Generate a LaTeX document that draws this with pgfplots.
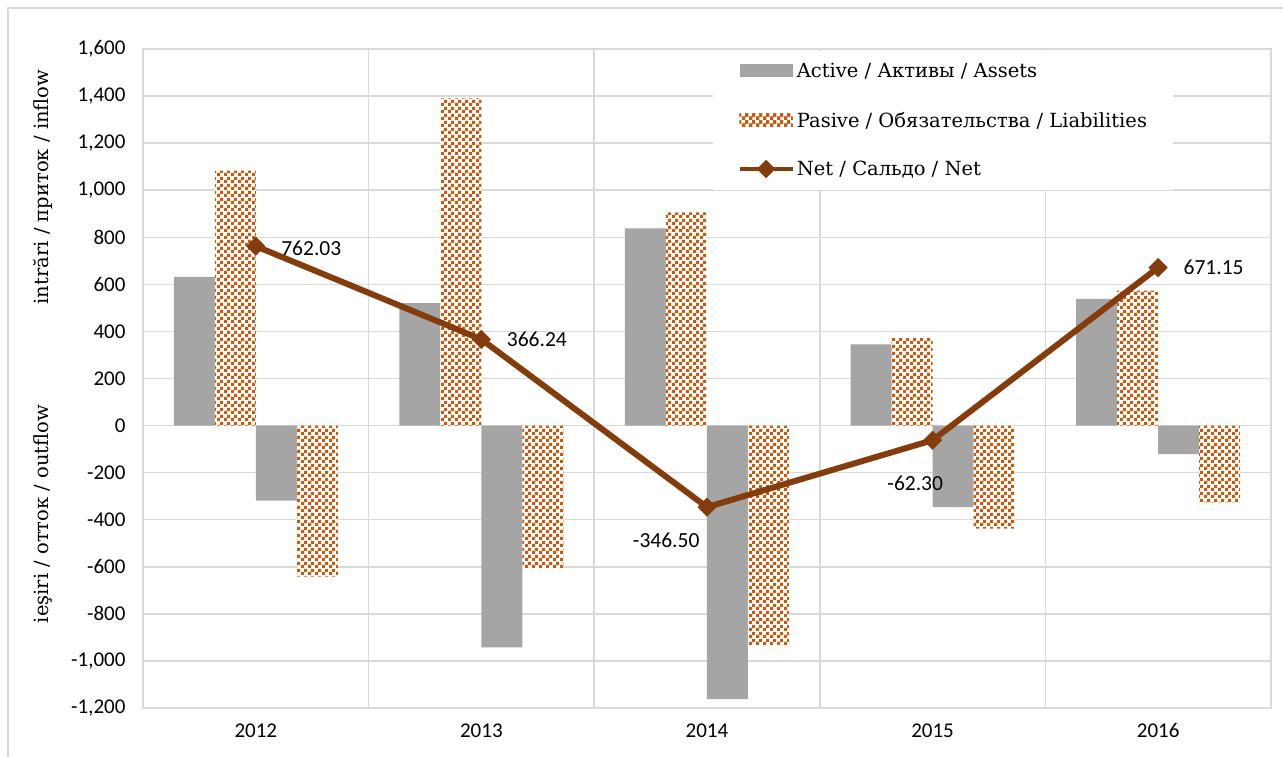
\documentclass[border=0pt]{standalone}
\usepackage{fontspec}
\setmainfont{DejaVu Serif}
\newfontfamily\carlito{Carlito}
\usepackage{pgfplots}
\pgfplotsset{compat=1.18}
\usetikzlibrary{patterns.meta}
\definecolor{xgray}{HTML}{A5A5A5}
\definecolor{xorange}{HTML}{C55A11}
\definecolor{xnet}{HTML}{843C0C}
\definecolor{xgrid}{HTML}{D9D9D9}
\pgfdeclarepattern{
  name=xlcheck, type=uncolored,
  bottom left={\pgfpoint{0pt}{0pt}}, top right={\pgfpoint{7pt}{7pt}},
  tile size={\pgfpoint{7pt}{7pt}},
  code={\pgfpathrectangle{\pgfpoint{0pt}{0pt}}{\pgfpoint{3.5pt}{3.5pt}}
        \pgfpathrectangle{\pgfpoint{3.5pt}{3.5pt}}{\pgfpoint{3.5pt}{3.5pt}}
        \pgfusepath{fill}}}
\pgfplotstableread{
x act pas actn pasn net
0 632 1083 -319 -642 762.03
1 520 1390 -942 -606 366.24
2 838 906 -1162 -934 -346.50
3 345 373 -347 -438 -62.30
4 538 573 -121 -326 671.15
}\datatab
\begin{document}
\begin{tikzpicture}
\path[use as bounding box] (0pt,0pt) rectangle (1283pt,-757pt);
\draw[xgrid, line width=1.5pt] (8pt,-8pt) rectangle (1320pt,-800pt);
\begin{axis}[
  at={(143pt,-708pt)}, anchor=south west,
  scale only axis, width=1128pt, height=659pt,
  xmin=-0.5, xmax=4.5, ymin=-1200, ymax=1600,
  ytick distance=200,
  xtick={0,1,2,3,4}, xticklabels={2012,2013,2014,2015,2016},
  minor xtick={0.5,1.5,2.5,3.5},
  xminorgrids, ymajorgrids,
  grid style={xgrid, line width=1.5pt},
  minor grid style={xgrid, line width=1.5pt},
  axis line style={xgrid, line width=1.5pt},
  major tick length=0pt, minor tick length=0pt,
  tick style={draw=none},
  ticklabel style={font=\carlito\fontsize{21}{21}\selectfont},
  /pgf/number format/assume math mode=true,
  /pgf/number format/.cd, 1000 sep={,}, /pgfplots/.cd,
  yticklabel style={xshift=-14pt},
  xticklabel style={yshift=-12pt},
  legend style={at={(0.5055,0.998)}, anchor=north west, draw=none, fill=white,
    font=\fontsize{19.5}{23}\selectfont, row sep=28.5pt,
    inner xsep=24pt, inner ysep=11pt,
    nodes={inner xsep=2pt}},
  legend cell align=left,
]
\addplot[ybar, bar width=41pt, bar shift=-61.5pt, fill=xgray, draw=none,
  legend image code/.code={\fill[xgray] (0pt,-6pt) rectangle (53pt,7pt);}]
  table[x=x,y=act]{\datatab};
\addlegendentry{Active / Активы / Assets}
\addplot[ybar, bar width=41pt, bar shift=-20.5pt, fill=white, draw=none,
  postaction={pattern=xlcheck, pattern color=xorange},
  legend image code/.code={\fill[white] (0pt,-6pt) rectangle (53pt,7pt);
    \fill[pattern=xlcheck, pattern color=xorange] (0pt,-6pt) rectangle (53pt,7pt);}]
  table[x=x,y=pas]{\datatab};
\addlegendentry{Pasive / Обязательства / Liabilities}
\addplot[ybar, bar width=41pt, bar shift=20.5pt, fill=xgray, draw=none, forget plot]
  table[x=x,y=actn]{\datatab};
\addplot[ybar, bar width=41pt, bar shift=61.5pt, fill=white, draw=none,
  postaction={pattern=xlcheck, pattern color=xorange}, forget plot]
  table[x=x,y=pasn]{\datatab};
\addplot[xnet, line width=6pt, mark=square*, mark size=6.5pt,
  mark options={rotate=45, solid, line width=0.5pt, fill=xnet},
  legend image code/.code={\draw[xnet, line width=4.5pt] (0pt,0pt) -- (53pt,0pt);
    \fill[xnet] (26.5pt,-5pt) -- (31.5pt,0pt) -- (26.5pt,5pt) -- (21.5pt,0pt) -- cycle;}]
  table[x=x,y=net]{\datatab};
\addlegendentry{Net / Сальдо / Net}
\node[anchor=west, font=\carlito\fontsize{21.5}{21}\selectfont] at (axis cs:0,762.03) [xshift=22pt, yshift=-2pt] {762.03};
\node[anchor=west, font=\carlito\fontsize{21.5}{21}\selectfont] at (axis cs:1,366.24) [xshift=22pt, yshift=0pt] {366.24};
\node[anchor=east, font=\carlito\fontsize{21.5}{21}\selectfont] at (axis cs:2,-346.50) [xshift=-4pt, yshift=-33pt] {-346.50};
\node[anchor=east, font=\carlito\fontsize{21.5}{21}\selectfont] at (axis cs:3,-62.30) [xshift=14pt, yshift=-43pt] {-62.30};
\node[anchor=west, font=\carlito\fontsize{21.5}{21}\selectfont] at (axis cs:4,671.15) [xshift=22pt, yshift=0pt] {671.15};
\end{axis}
\node[rotate=90, font=\fontsize{19.5}{23}\selectfont] at (43pt,-187pt) {intrări / приток / inflow};
\node[rotate=90, font=\fontsize{19.5}{23}\selectfont] at (43pt,-514pt) {ieşiri / отток / outflow};
\end{tikzpicture}
\end{document}
